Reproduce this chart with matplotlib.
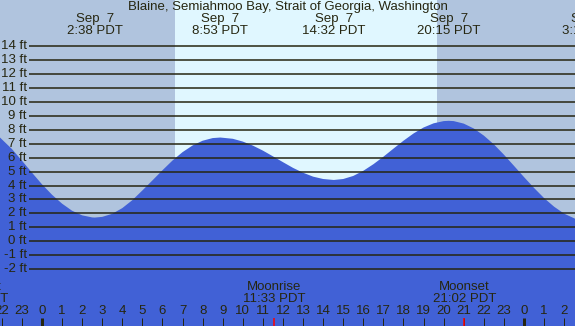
import matplotlib.pyplot as plt

# tide height (ft), hours since midnight Sep 7 (PDT)
hours = [-2.09, -1.5, -1, -0.5, 0, 0.5, 1, 1.5, 2, 2.5, 2.63,
         3, 3.5, 4, 4.5, 5, 5.5, 6, 6.5, 7, 7.5, 8, 8.5, 8.88,
         9.5, 10, 10.5, 11, 11.5, 12, 12.5, 13, 13.5, 14, 14.53,
         15, 15.5, 16, 16.5, 17, 17.5, 18, 18.5, 19, 19.5, 20, 20.25,
         20.5, 21, 21.5, 22, 22.5, 23, 23.5, 24, 24.5, 25, 25.5, 26, 26.54]
height = [7.45, 6.63, 5.79, 4.93, 4.09, 3.34, 2.70, 2.19, 1.86, 1.71, 1.70,
          1.75, 1.97, 2.38, 2.95, 3.65, 4.37, 5.10, 5.80, 6.40, 6.88, 7.22, 7.41, 7.45,
          7.36, 7.16, 6.87, 6.51, 6.10, 5.68, 5.27, 4.92, 4.64, 4.47, 4.40,
          4.47, 4.69, 5.06, 5.53, 6.07, 6.65, 7.22, 7.74, 8.17, 8.47, 8.63, 8.65,
          8.63, 8.45, 8.10, 7.59, 6.96, 6.22, 5.42, 4.61, 3.83, 3.10, 2.48, 1.98, 1.62]

# high / low tide labels along the top
ext_hours = [2.63, 8.88, 14.53, 20.25, 27.3]
ext_dates = ['Sep  7', 'Sep  7', 'Sep  7', 'Sep  7', 'Sep  8']
ext_times = ['2:38 PDT', '8:53 PDT', '14:32 PDT', '20:15 PDT', '3:18 PDT']

sunrise, sunset = 6.62, 19.67

moon_hours = [-3.27, 11.55, 21.03]
moon_names = ['Moonset', 'Moonrise', 'Moonset']
moon_times = ['20:44 PDT', '11:33 PDT', '21:02 PDT']

levels = list(range(-2, 15))
tick_hours = list(range(-2, 27))

night = '#B0C4DE'
day = '#E0F7FF'
water = '#4161D6'
ink = '#262610'
fs = 9.5

plt.rcParams['font.family'] = ['Liberation Sans', 'DejaVu Sans']

fig = plt.figure(figsize=(5.75, 3.26), dpi=100)
ax = fig.add_axes([0, 0, 1, 1])
x0, x1 = -2.09, 26.54
ax.set_xlim(x0, x1)
ax.set_ylim(-6.09, 17.33)
ax.axis('off')

ax.axvspan(x0, sunrise, color=night, zorder=0, lw=0)
ax.axvspan(sunrise, sunset, color=day, zorder=0, lw=0)
ax.axvspan(sunset, x1, color=night, zorder=0, lw=0)

ax.fill_between(hours, height, -10, color=water, lw=0, zorder=1)

ax.hlines(levels, 29 / 575, 1, transform=ax.get_yaxis_transform(),
          color=ink, lw=1.1, zorder=2)
for lv in levels:
    ax.text(27 / 575, lv, f'{lv} ft', transform=ax.get_yaxis_transform(),
            ha='right', va='center', fontsize=fs, color=ink, zorder=3)

bt = ax.get_xaxis_transform()
ax.text(0.5, 0.978, 'Blaine, Semiahmoo Bay, Strait of Georgia, Washington',
        transform=ax.transAxes, ha='center', va='center', fontsize=fs, color=ink)
for h, d, t in zip(ext_hours, ext_dates, ext_times):
    ax.text(h, 0.941, d, transform=bt, ha='center', va='center',
            fontsize=fs, color=ink)
    ax.text(h, 0.904, t, transform=bt, ha='center', va='center',
            fontsize=fs, color=ink)

for h, n, t in zip(moon_hours, moon_names, moon_times):
    ax.text(h, 0.12, n, transform=bt, ha='center', va='center',
            fontsize=fs, color=ink)
    ax.text(h, 0.083, t, transform=bt, ha='center', va='center',
            fontsize=fs, color=ink)

for h in tick_hours:
    ax.text(h, 0.045, str(h % 24), transform=bt, ha='center', va='center',
            fontsize=fs, color=ink)
    lw = 3 if h % 24 == 0 else 1
    ax.vlines(h, 0, 8 / 326, transform=bt, color=ink, lw=lw * 0.72, zorder=3)
ax.vlines(moon_hours[1:], 0, 8 / 326, transform=bt, color='red', lw=1.1, zorder=4)

fig.savefig('out.png', dpi=100)
